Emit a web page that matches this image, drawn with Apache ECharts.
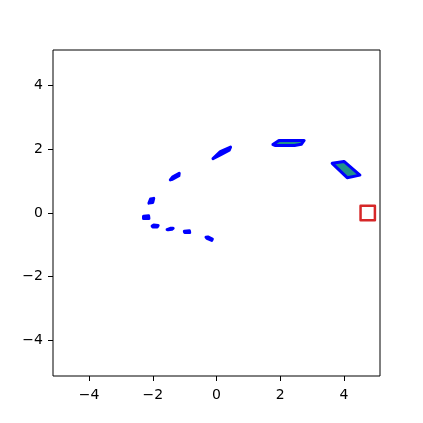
<!DOCTYPE html>
<html><head><meta charset="utf-8">
<script src="https://cdn.jsdelivr.net/npm/echarts@6/dist/echarts.min.js"></script>
<style>html,body{margin:0;padding:0;background:#fff}#c{width:423px;height:423px}</style>
</head><body><div id="c"></div><script>
const xTicks = [-4, -2, 0, 2, 4];
const yTicks = [-4, -2, 0, 2, 4];

// polygon vertices [x, y]
const shapeJ = [[-0.33,-0.76],[-0.27,-0.75],[-0.13,-0.82],[-0.15,-0.86],[-0.30,-0.80]];
const shapeI = [[-1.01,-0.57],[-0.85,-0.56],[-0.84,-0.61],[-1.00,-0.61]];
const shapeH = [[-1.55,-0.52],[-1.45,-0.48],[-1.36,-0.48],[-1.40,-0.51],[-1.52,-0.53]];
const shapeG = [[-2.02,-0.41],[-1.97,-0.38],[-1.83,-0.39],[-1.86,-0.44],[-2.00,-0.44]];
const shapeF = [[-2.29,-0.10],[-2.13,-0.09],[-2.12,-0.17],[-2.29,-0.17]];
const shapeE = [[-2.12,0.31],[-2.07,0.44],[-1.97,0.46],[-2.00,0.33]];
const shapeD = [[-1.45,1.04],[-1.37,1.14],[-1.17,1.25],[-1.18,1.17],[-1.38,1.06]];
const shapeC = [[-0.11,1.71],[0.12,1.93],[0.44,2.07],[0.40,1.97],[0.15,1.84]];
const shapeA = [[1.77,2.15],[1.96,2.28],[2.75,2.28],[2.66,2.16],[2.45,2.12],[1.85,2.12]];
const shapeB = [[3.63,1.56],[4.00,1.62],[4.50,1.19],[4.10,1.11]];
const polygons = [shapeJ, shapeI, shapeH, shapeG, shapeF, shapeE, shapeD, shapeC, shapeA, shapeB];

const squareShape = [[4.52,-0.225],[4.97,-0.225],[4.97,0.225],[4.52,0.225]];
const squares = [squareShape];

function polyRender(list, fill, stroke, lw) {
  return function (params, api) {
    const pts = list[params.dataIndex].map(p => api.coord(p));
    return {
      type: 'polygon',
      shape: { points: pts },
      style: { fill: fill, stroke: stroke, lineWidth: lw, lineJoin: 'round' }
    };
  };
}

const fmt = v => String(v).replace('-', '\u2212');
const labelStyle = { fontFamily: 'DejaVu Sans', fontSize: 14, color: '#000' };

const chart = echarts.init(document.getElementById('c'), null, { renderer: 'canvas' });
chart.setOption({
  animation: false,
  backgroundColor: '#fff',
  grid: { left: 53, right: 43, top: 50, bottom: 47, show: true, borderColor: '#000', borderWidth: 1, backgroundColor: 'transparent' },
  xAxis: {
    type: 'value', min: -5.13, max: 5.13, position: 'bottom',
    axisLine: { show: false, onZero: false },
    axisTick: { show: true, length: 5, inside: false, customValues: xTicks, lineStyle: { color: '#000' } },
    axisLabel: Object.assign({ margin: 12, customValues: xTicks, formatter: fmt }, labelStyle),
    splitLine: { show: false }
  },
  yAxis: {
    type: 'value', min: -5.12, max: 5.12, position: 'left',
    axisLine: { show: false, onZero: false },
    axisTick: { show: true, length: 5, inside: false, customValues: yTicks, lineStyle: { color: '#000' } },
    axisLabel: Object.assign({ margin: 10, customValues: yTicks, formatter: fmt }, labelStyle),
    splitLine: { show: false }
  },
  series: [
    {
      type: 'custom', coordinateSystem: 'cartesian2d',
      data: polygons.map(p => p[0]),
      encode: { x: 0, y: 1 },
      renderItem: polyRender(polygons, '#21918c', '#0000ff', 3),
      clip: false
    },
    {
      type: 'custom', coordinateSystem: 'cartesian2d',
      data: squares.map(p => p[0]),
      encode: { x: 0, y: 1 },
      renderItem: polyRender(squares, 'none', '#d62728', 2.5),
      clip: false
    }
  ]
});
</script></body></html>
